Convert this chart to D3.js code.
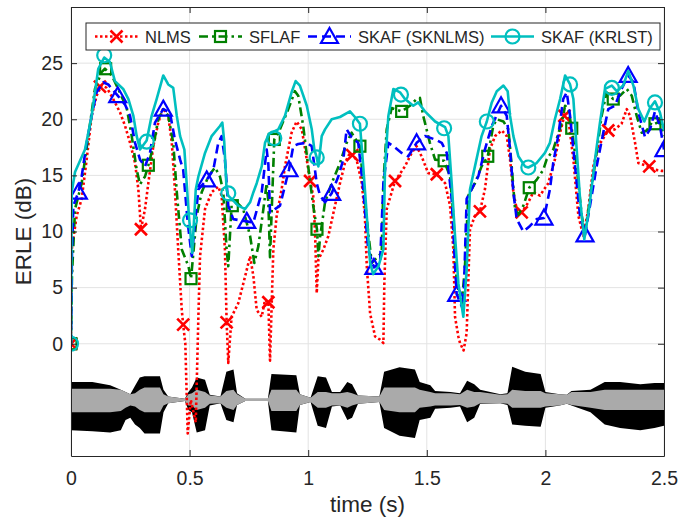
<!DOCTYPE html>
<html>
<head>
<meta charset="utf-8">
<script src="https://cdn.jsdelivr.net/npm/d3@7"></script>
<style>
body { margin: 0; background: #fff; }
svg text { font-family: "Liberation Sans", Arial, sans-serif; fill: #262626; }
</style>
</head>
<body>
<svg id="chart" width="692" height="518"></svg>
<script>
// ERLE curves, [time (s), ERLE (dB)]
const nlms = [[0,0],[0.003,8.4],[0.024,11.4],[0.045,12.9],[0.066,16.4],[0.087,20.3],[0.108,22.1],[0.129,23.0],[0.151,22.8],[0.178,21.8],[0.207,20.6],[0.228,19.4],[0.249,17.9],[0.270,16.1],[0.284,13.75],[0.295,10.2],[0.312,12.0],[0.326,14.3],[0.347,17.6],[0.368,19.7],[0.389,21.0],[0.410,20.3],[0.425,17.9],[0.438,13.75],[0.452,8.4],[0.467,3.0],[0.473,1.7],[0.482,0],[0.492,-8],[0.505,-5],[0.526,-7],[0.537,2.4],[0.544,7.8],[0.565,12.0],[0.593,13.5],[0.621,14.0],[0.635,13.2],[0.649,8.4],[0.656,2.0],[0.663,-1.7],[0.677,2.4],[0.705,3.6],[0.734,6.0],[0.755,7.8],[0.769,6.0],[0.783,3.0],[0.804,2.4],[0.818,3.9],[0.832,3.7],[0.839,-1.5],[0.853,8.4],[0.867,11.4],[0.888,13.75],[0.902,15.8],[0.930,18.8],[0.951,19.8],[0.973,19.1],[0.994,16.4],[1.008,14.5],[1.021,13.2],[1.029,9.9],[1.036,4.5],[1.043,7.5],[1.064,8.4],[1.085,9.6],[1.113,12.3],[1.134,14.3],[1.155,16.1],[1.176,17.0],[1.204,16.4],[1.226,14.3],[1.239,11.4],[1.247,6.9],[1.261,2.7],[1.282,0.65],[1.303,0.36],[1.317,0.06],[1.321,5.4],[1.331,12.0],[1.366,14.5],[1.408,15.8],[1.436,17.0],[1.457,17.6],[1.478,16.7],[1.506,15.2],[1.542,15.1],[1.577,14.3],[1.598,12.3],[1.612,8.4],[1.619,2.4],[1.633,0.65],[1.640,0.06],[1.655,-0.6],[1.668,0.95],[1.682,10.2],[1.703,11.4],[1.724,11.8],[1.745,13.75],[1.766,17.3],[1.788,18.5],[1.816,19.0],[1.837,18.5],[1.851,16.4],[1.865,13.5],[1.879,12.0],[1.900,11.7],[1.928,12.6],[1.949,13.5],[1.977,13.2],[2.012,14.3],[2.040,16.4],[2.062,18.8],[2.083,20.6],[2.097,20.0],[2.118,16.4],[2.139,11.4],[2.160,9.6],[2.181,12.0],[2.202,15.8],[2.223,17.6],[2.265,19.0],[2.293,19.1],[2.321,19.6],[2.343,20.9],[2.357,20.3],[2.378,17.9],[2.392,16.1],[2.434,15.8],[2.462,15.5],[2.490,15.4],[2.500,15.4]];
const sflaf = [[0,0],[0.004,6],[0.017,12.0],[0.045,14.3],[0.073,18.5],[0.101,22.7],[0.129,24.2],[0.143,24.5],[0.172,23.9],[0.199,22.7],[0.235,21.0],[0.256,18.5],[0.277,15.5],[0.291,14.2],[0.312,14.9],[0.326,15.9],[0.347,17.6],[0.368,20.0],[0.389,20.9],[0.410,20.3],[0.431,17.9],[0.446,13.5],[0.467,8.4],[0.495,6.9],[0.506,5.8],[0.530,11.4],[0.551,13.5],[0.579,14.9],[0.607,15.7],[0.628,14.9],[0.642,13.5],[0.656,8.4],[0.663,6.9],[0.677,12.3],[0.699,12.6],[0.726,12.0],[0.755,9.6],[0.773,7.2],[0.790,8.7],[0.811,12.0],[0.825,14.3],[0.832,12.6],[0.839,7.7],[0.857,18.2],[0.881,19.1],[0.916,20.9],[0.944,22.5],[0.958,22.1],[0.979,19.4],[1.000,15.8],[1.021,12.3],[1.037,10.2],[1.043,7.8],[1.050,9.5],[1.071,12.6],[1.099,14.3],[1.134,16.1],[1.162,17.9],[1.183,18.8],[1.218,17.6],[1.232,14.3],[1.253,9.9],[1.268,7.2],[1.296,7.8],[1.310,8.1],[1.317,14.3],[1.331,19.1],[1.352,21.0],[1.394,20.7],[1.429,21.2],[1.457,21.8],[1.471,21.9],[1.485,20.3],[1.513,17.9],[1.535,16.4],[1.573,16.3],[1.598,14.9],[1.612,11.4],[1.626,5.4],[1.647,3.6],[1.660,6.5],[1.675,13.2],[1.703,14.3],[1.731,15.8],[1.757,16.7],[1.780,19.4],[1.795,20.0],[1.823,19.8],[1.844,19.1],[1.858,15.8],[1.872,12.0],[1.886,11.5],[1.907,12.3],[1.932,13.9],[1.963,14.6],[1.991,15.5],[2.005,16.4],[2.033,17.3],[2.069,19.7],[2.083,21.2],[2.097,20.9],[2.111,19.2],[2.132,15.8],[2.153,11.4],[2.167,9.9],[2.188,12.9],[2.216,17.0],[2.237,20.3],[2.258,22.4],[2.286,21.8],[2.315,22.1],[2.343,22.7],[2.364,22.1],[2.385,20.3],[2.406,18.8],[2.427,19.0],[2.448,19.7],[2.462,19.6],[2.483,19.8],[2.500,18.5]];
const sknlms = [[0,0],[0.004,8],[0.010,12.3],[0.031,13.5],[0.045,14.9],[0.066,17.9],[0.087,20.3],[0.108,22.4],[0.136,23.3],[0.157,23.1],[0.197,22.1],[0.228,21.3],[0.249,20.3],[0.270,17.9],[0.291,16.4],[0.312,15.8],[0.333,17.0],[0.354,19.7],[0.389,20.9],[0.417,20.6],[0.438,18.2],[0.460,16.4],[0.473,15.5],[0.492,10.8],[0.509,7.8],[0.537,13.75],[0.572,14.6],[0.600,15.5],[0.621,17.9],[0.635,18.5],[0.649,16.4],[0.663,12.3],[0.684,11.1],[0.741,10.9],[0.769,10.8],[0.804,13.5],[0.825,17.3],[0.832,16.0],[0.839,11.7],[0.860,12.0],[0.881,12.3],[0.919,15.5],[0.937,17.6],[0.958,17.8],[0.994,17.9],[1.015,17.6],[1.036,14.3],[1.050,13.2],[1.071,12.6],[1.099,13.4],[1.127,14.9],[1.148,16.4],[1.162,19.1],[1.183,18.4],[1.211,17.9],[1.232,13.75],[1.253,8.4],[1.277,6.8],[1.303,7.2],[1.317,14.3],[1.338,17.9],[1.359,17.6],[1.394,17.0],[1.422,16.7],[1.457,17.9],[1.492,18.5],[1.535,18.2],[1.563,17.9],[1.584,17.0],[1.605,12.9],[1.619,6.9],[1.626,4.4],[1.654,3.0],[1.668,12.9],[1.717,14.9],[1.745,17.3],[1.774,19.4],[1.813,21.2],[1.837,20.3],[1.851,17.3],[1.865,13.5],[1.879,11.1],[1.907,10.0],[1.935,10.5],[1.963,11.1],[1.994,11.2],[2.019,13.75],[2.033,16.1],[2.054,18.5],[2.075,21.8],[2.090,22.4],[2.104,20.3],[2.125,15.8],[2.146,11.4],[2.167,9.7],[2.188,12.3],[2.216,15.8],[2.244,18.8],[2.265,20.9],[2.293,21.2],[2.321,22.7],[2.349,23.9],[2.371,23.3],[2.392,20.6],[2.420,18.4],[2.441,19.1],[2.462,20.7],[2.483,19.4],[2.500,17.3]];
const krlst = [[0,0],[0.003,13.5],[0.017,15.3],[0.059,17.3],[0.087,20.3],[0.115,24.5],[0.140,25.5],[0.164,25.1],[0.185,23.4],[0.220,22.7],[0.242,21.8],[0.263,20.3],[0.277,18.5],[0.291,17.3],[0.319,18.1],[0.340,20.3],[0.361,21.8],[0.389,23.9],[0.410,23.1],[0.431,22.8],[0.446,20.3],[0.460,18.5],[0.478,17.3],[0.497,11.4],[0.511,8.1],[0.526,13.75],[0.537,14.9],[0.565,17.0],[0.593,18.5],[0.628,19.4],[0.638,19.7],[0.646,18.0],[0.656,13.75],[0.663,13.2],[0.705,12.3],[0.734,12.0],[0.755,12.6],[0.769,13.5],[0.783,14.3],[0.804,15.8],[0.818,17.9],[0.835,18.7],[0.874,19.1],[0.902,20.3],[0.930,22.4],[0.947,23.4],[0.965,23.0],[0.994,21.2],[1.015,19.1],[1.026,17.3],[1.036,16.6],[1.043,15.8],[1.057,18.5],[1.071,19.1],[1.099,20.0],[1.134,20.2],[1.176,20.7],[1.197,20.2],[1.218,19.6],[1.232,15.8],[1.247,11.4],[1.261,7.2],[1.274,6.2],[1.296,6.9],[1.317,8.4],[1.324,15.8],[1.338,20.3],[1.359,22.7],[1.387,22.4],[1.408,21.8],[1.443,21.2],[1.464,21.5],[1.492,20.7],[1.535,19.8],[1.577,19.3],[1.591,18.5],[1.605,14.3],[1.619,9.6],[1.633,5.4],[1.654,2.4],[1.668,6.6],[1.682,13.75],[1.703,15.8],[1.731,18.5],[1.753,19.8],[1.774,21.5],[1.795,22.5],[1.823,23.0],[1.841,22.5],[1.851,20.3],[1.865,18.5],[1.886,16.7],[1.914,15.8],[1.928,15.7],[1.963,16.1],[1.998,17.0],[2.019,17.9],[2.040,20.0],[2.062,21.8],[2.083,23.9],[2.104,23.1],[2.118,21.8],[2.132,17.3],[2.146,12.9],[2.164,9.3],[2.184,12.0],[2.209,16.4],[2.230,19.7],[2.251,22.7],[2.280,23.0],[2.301,22.5],[2.328,23.0],[2.349,24.3],[2.371,23.0],[2.392,20.9],[2.417,19.8],[2.441,21.0],[2.462,21.6],[2.483,20.6],[2.500,19.0]];

// marker positions
const nlmsMarks = [[0,0],[0.122,22.9],[0.295,10.2],[0.473,1.7],[0.656,1.9],[0.832,3.7],[1.008,14.5],[1.186,16.8],[1.366,14.5],[1.542,15.1],[1.724,11.8],[1.900,11.7],[2.080,20.3],[2.265,19.0],[2.438,15.8]];
const sflafMarks = [[0,0],[0.146,24.5],[0.326,15.9],[0.506,5.8],[0.680,12.3],[0.857,18.2],[1.037,10.2],[1.218,17.6],[1.394,20.7],[1.573,16.3],[1.757,16.7],[1.932,13.9],[2.111,19.2],[2.286,21.8],[2.462,19.6]];
const sknlmsMarks = [[0.031,13.5],[0.197,22.1],[0.389,20.9],[0.572,14.6],[0.741,10.9],[0.919,15.5],[1.099,13.4],[1.277,6.8],[1.457,17.9],[1.626,4.4],[1.813,21.2],[1.994,11.2],[2.167,9.7],[2.349,23.9],[2.500,17.3]];
const krlstMarks = [[0,0],[0.140,25.7],[0.319,18.0],[0.502,11.0],[0.663,13.4],[0.857,18.3],[1.036,16.6],[1.218,19.6],[1.391,22.2],[1.573,19.2],[1.753,19.8],[1.928,15.7],[2.104,23.1],[2.280,22.8],[2.462,21.5]];

// speech waveform envelopes (drawn below 0 dB)
const waveT = [0,0.09,0.165,0.21,0.23,0.25,0.27,0.29,0.31,0.375,0.39,0.41,0.48,0.495,0.51,0.53,0.565,0.585,0.63,0.655,0.685,0.70,0.735,0.83,0.845,0.95,0.965,1.01,1.04,1.075,1.10,1.135,1.165,1.185,1.21,1.30,1.32,1.385,1.45,1.47,1.515,1.535,1.60,1.64,1.67,1.70,1.725,1.81,1.84,1.86,1.915,1.98,2.00,2.06,2.09,2.11,2.19,2.25,2.315,2.40,2.46,2.50];
const blackTop = [-3.4,-3.4,-3.7,-4.1,-4.3,-4.5,-3.75,-3.0,-2.9,-2.9,-4.1,-4.7,-4.9,-4.3,-3.9,-3.0,-3.2,-4.55,-4.7,-2.5,-2.3,-4.4,-4.9,-4.9,-2.7,-2.8,-4.5,-4.8,-2.9,-3.0,-4.3,-4.3,-3.4,-3.6,-4.6,-4.7,-2.5,-2.1,-2.3,-3.4,-3.7,-4.2,-4.3,-4.4,-3.3,-3.6,-4.1,-4.5,-4.4,-2.05,-2.5,-2.7,-4.3,-4.5,-4.55,-4.2,-4.1,-3.4,-3.4,-3.6,-3.5,-3.5];
const blackBottom = [-7.7,-7.8,-7.9,-7.7,-6.8,-6.6,-7.2,-7.5,-8.0,-8.0,-6.1,-5.3,-5.1,-5.9,-6.1,-7.9,-7.7,-5.5,-5.3,-6.8,-7.0,-5.45,-5.1,-5.1,-7.7,-7.9,-5.45,-5.2,-7.3,-7.5,-5.6,-5.5,-6.8,-6.6,-5.35,-5.2,-7.5,-8.2,-8.4,-6.8,-6.6,-5.8,-5.7,-5.6,-7.0,-6.6,-5.35,-5.3,-5.45,-7.2,-7.3,-7.4,-5.7,-5.5,-5.35,-5.5,-6.1,-7.2,-7.5,-7.7,-7.5,-7.3];
const grayTop = [-4.0,-4.0,-4.0,-4.1,-4.3,-4.5,-4.4,-4.1,-3.9,-3.9,-4.5,-4.7,-4.9,-4.5,-4.4,-4.1,-4.3,-4.6,-4.7,-4.2,-4.1,-4.5,-4.9,-4.9,-4.1,-4.1,-4.5,-4.8,-4.3,-4.3,-4.4,-4.4,-4.3,-4.4,-4.6,-4.7,-3.9,-3.9,-3.9,-4.1,-4.3,-4.4,-4.4,-4.5,-4.1,-4.3,-4.3,-4.55,-4.5,-4.1,-4.2,-4.2,-4.4,-4.5,-4.55,-4.3,-4.3,-4.1,-4.1,-4.1,-4.1,-4.1];
const grayBottom = [-6.1,-6.1,-6.1,-6.0,-5.7,-5.5,-5.6,-5.9,-6.1,-6.1,-5.5,-5.3,-5.1,-5.5,-5.5,-5.9,-5.7,-5.35,-5.3,-5.7,-5.9,-5.45,-5.1,-5.1,-6.0,-6.0,-5.45,-5.2,-5.7,-5.7,-5.5,-5.5,-5.7,-5.5,-5.35,-5.2,-5.9,-6.1,-6.1,-5.7,-5.6,-5.5,-5.5,-5.45,-5.7,-5.6,-5.3,-5.3,-5.35,-5.7,-5.7,-5.7,-5.6,-5.5,-5.35,-5.45,-5.7,-5.9,-5.9,-5.9,-5.9,-5.9];

const xTicks = [0, 0.5, 1, 1.5, 2, 2.5];
const xTickLabels = ['0', '0.5', '1', '1.5', '2', '2.5'];
const yTicks = [0, 5, 10, 15, 20, 25];
const names = ['NLMS', 'SFLAF', 'SKAF (SKNLMS)', 'SKAF (KRLST)'];

const pl = 71, pr = 664, pt = 7, pb = 456;
const x = d3.scaleLinear().domain([0, 2.5]).range([pl, pr]);
const y = d3.scaleLinear().domain([-10, 30]).range([pb, pt]);
const ink = '#262626';

const svg = d3.select('#chart');
svg.append('rect').attr('width', 692).attr('height', 518).attr('fill', '#fff');

svg.append('defs').append('clipPath').attr('id', 'plot')
    .append('rect').attr('x', pl).attr('y', pt)
    .attr('width', pr - pl).attr('height', pb - pt);

// grid
const grid = svg.append('g').attr('stroke', '#e3e3e3').attr('stroke-width', 1);
grid.selectAll('line.gx').data(xTicks).join('line').classed('gx', true)
    .attr('x1', d => x(d)).attr('x2', d => x(d)).attr('y1', pt).attr('y2', pb);
grid.selectAll('line.gy').data(yTicks).join('line').classed('gy', true)
    .attr('x1', pl).attr('x2', pr).attr('y1', d => y(d)).attr('y2', d => y(d));

// waveform
const wave = waveT.map((t, i) => ({t, bt: blackTop[i], bb: blackBottom[i], gt: grayTop[i], gb: grayBottom[i]}));
svg.append('path').datum(wave).attr('fill', '#000')
    .attr('d', d3.area().x(d => x(d.t)).y0(d => y(d.bb)).y1(d => y(d.bt)));
svg.append('path').datum(wave).attr('fill', '#aaaaaa')
    .attr('d', d3.area().x(d => x(d.t)).y0(d => y(d.gb)).y1(d => y(d.gt)));

const series = [
    {name: names[0], data: nlms, marks: nlmsMarks, color: '#ff0000', dash: '2.5,2.5', shape: 'x'},
    {name: names[1], data: sflaf, marks: sflafMarks, color: '#008000', dash: '9,4,2.5,4', shape: 'square'},
    {name: names[2], data: sknlms, marks: sknlmsMarks, color: '#0000ff', dash: '9,5', shape: 'tri'},
    {name: names[3], data: krlst, marks: krlstMarks, color: '#00bfbf', dash: null, shape: 'circle'}
];

const drawMarker = (g, shape, color) => {
    g.attr('fill', 'none').attr('stroke', color).attr('stroke-width', 2.2);
    if (shape === 'x') {
        g.append('path').attr('d', 'M-6,-6L6,6M-6,6L6,-6').attr('stroke-width', 2.6);
    } else if (shape === 'square') {
        g.append('rect').attr('x', -5.5).attr('y', -5.5).attr('width', 11).attr('height', 11);
    } else if (shape === 'tri') {
        g.append('path').attr('d', 'M0,-8.5L8.5,6.5L-8.5,6.5Z');
    } else {
        g.append('circle').attr('r', 7);
    }
};

const line = d3.line().x(d => x(d[0])).y(d => y(d[1]));
const plot = svg.append('g').attr('clip-path', 'url(#plot)');
series.forEach(s => {
    plot.append('path').datum(s.data)
        .attr('fill', 'none').attr('stroke', s.color).attr('stroke-width', 2.6)
        .attr('stroke-dasharray', s.dash).attr('stroke-linejoin', 'round')
        .attr('d', line);
    plot.selectAll(null).data(s.marks).join('g')
        .attr('transform', d => `translate(${x(d[0])},${y(d[1])})`)
        .each(function () { drawMarker(d3.select(this), s.shape, s.color); });
});

// axes (MATLAB style box, ticks inside)
const styleAxis = g => {
    g.select('.domain').attr('stroke', ink);
    g.selectAll('.tick line').attr('stroke', ink);
    g.selectAll('.tick text').attr('fill', ink).style('font-size', '19.5px');
};
svg.append('g').attr('transform', `translate(0,${pb})`)
    .call(d3.axisBottom(x).tickValues(xTicks).tickFormat((d, i) => xTickLabels[i])
        .tickSizeInner(-6).tickSizeOuter(0).tickPadding(15))
    .call(styleAxis);
svg.append('g').attr('transform', `translate(0,${pt})`)
    .call(d3.axisTop(x).tickValues(xTicks).tickFormat('').tickSizeInner(-6).tickSizeOuter(0))
    .call(styleAxis);
svg.append('g').attr('transform', `translate(${pl},0)`)
    .call(d3.axisLeft(y).tickValues(yTicks).tickSizeInner(-6).tickSizeOuter(0).tickPadding(8))
    .call(styleAxis);
svg.append('g').attr('transform', `translate(${pr},0)`)
    .call(d3.axisRight(y).tickValues(yTicks).tickFormat('').tickSizeInner(-6).tickSizeOuter(0))
    .call(styleAxis);

svg.append('text').attr('x', (pl + pr) / 2).attr('y', 512)
    .attr('text-anchor', 'middle').style('font-size', '22.5px').text('time (s)');
svg.append('text').attr('transform', `translate(31,${y(10)}) rotate(-90)`)
    .attr('text-anchor', 'middle').style('font-size', '22.5px').text('ERLE (dB)');

// legend
const legX = [95, 199, 308, 491];
const leg = svg.append('g');
leg.append('rect').attr('x', 86).attr('y', 23).attr('width', 574).attr('height', 27)
    .attr('fill', '#fff').attr('stroke', ink).attr('stroke-width', 1);
series.forEach((s, i) => {
    const g = leg.append('g').attr('transform', `translate(${legX[i]},36.5)`);
    g.append('line').attr('x1', 0).attr('x2', 43).attr('stroke', s.color)
        .attr('stroke-width', 2.6).attr('stroke-dasharray', s.dash);
    drawMarker(g.append('g').attr('transform', 'translate(21.5,0)'), s.shape, s.color);
    g.append('text').attr('x', 50).attr('y', 6).style('font-size', '16.5px').text(s.name);
});
</script>
</body>
</html>
